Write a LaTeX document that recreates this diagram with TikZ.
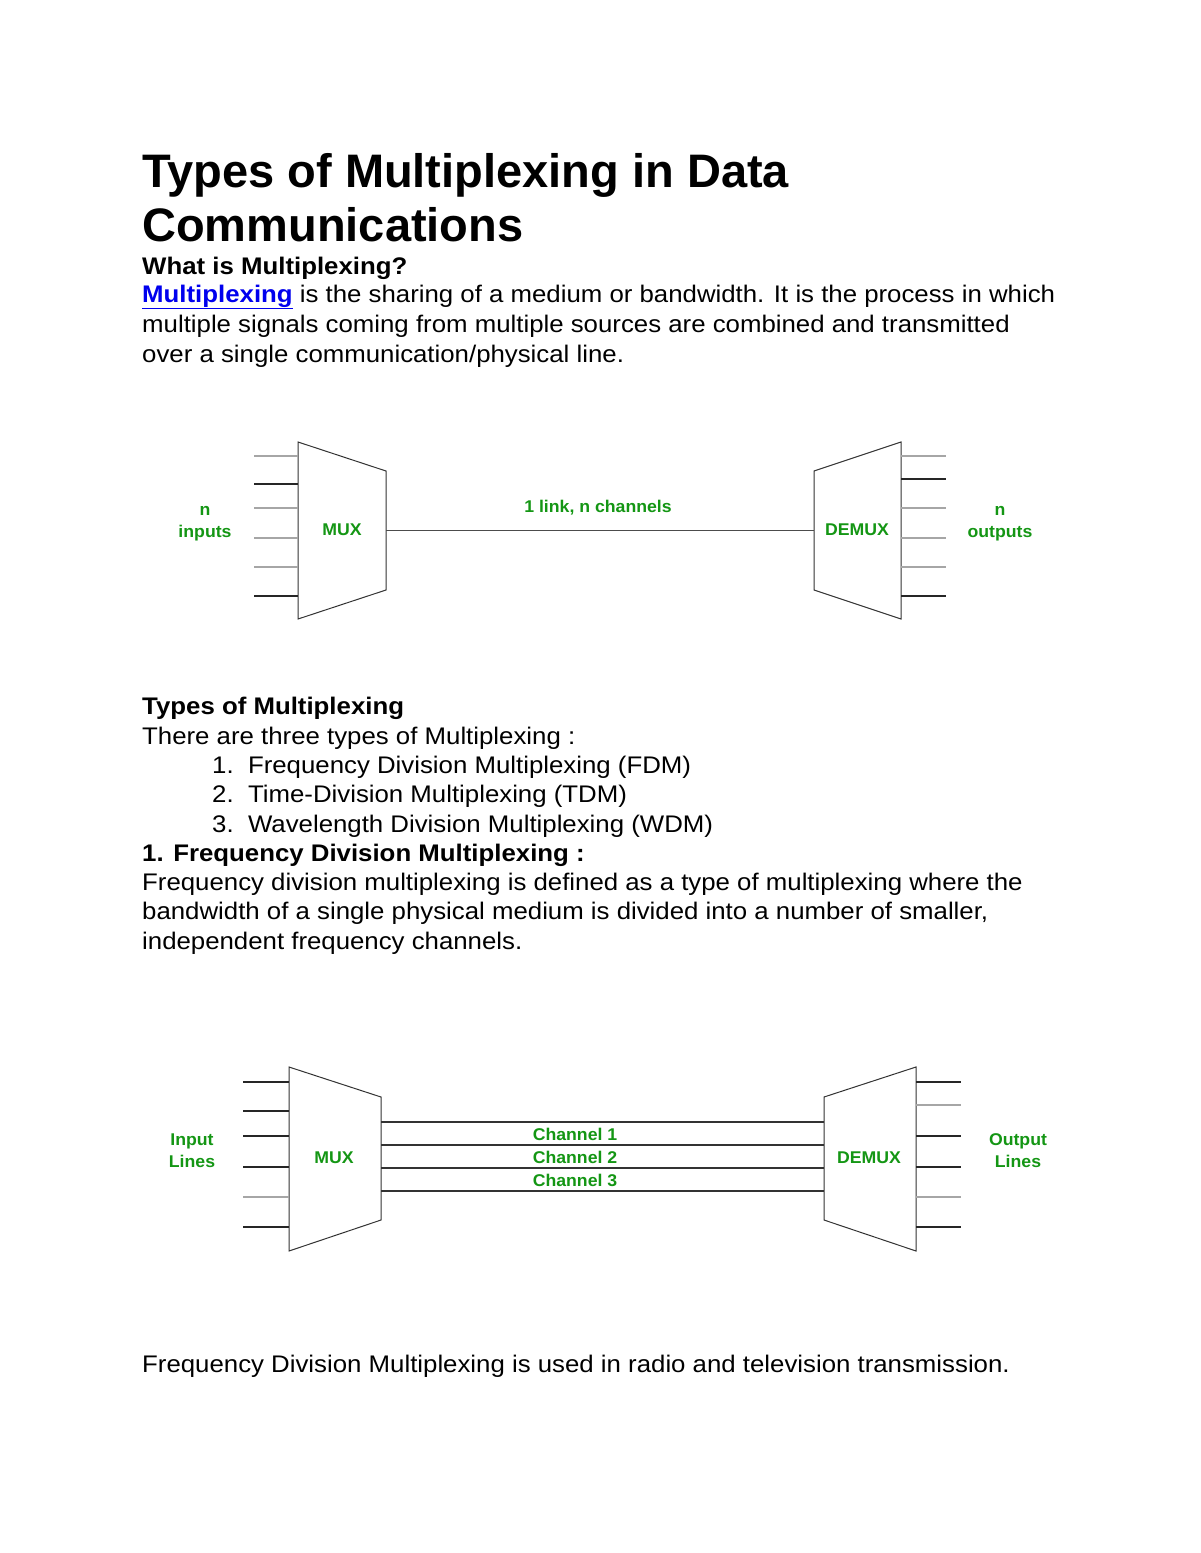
\documentclass[tikz,border=0pt]{standalone}
\usepackage{fontspec}
\setmainfont{Liberation Sans}
\newfontfamily\bodyfont[FakeStretch=1.075]{Liberation Sans}
\newfontfamily\lblfont[FakeStretch=1.04]{Liberation Sans}
\definecolor{lblgreen}{RGB}{20,150,20}
\definecolor{linkblue}{RGB}{0,0,238}
\begin{document}
\begin{tikzpicture}[x=1pt,y=-1pt,
  txt/.style={anchor=base west,inner sep=0,font=\bodyfont\fontsize{24}{28}\selectfont},
  hd/.style={txt,font=\bodyfont\fontsize{24}{28}\selectfont\bfseries},
  ttl/.style={anchor=base west,inner sep=0,font=\fontsize{47}{56}\selectfont\bfseries},
  lbl/.style={inner sep=0,text=lblgreen,font=\lblfont\fontsize{17}{22}\selectfont\bfseries,align=center},
  blk/.style={line width=1.3pt,black!85},
  gry/.style={line width=1.3pt,black!35},
  box/.style={line width=1pt,black!80}]
\useasboundingbox (0,0) rectangle (1200,1553);
\fill[white] (0,0) rectangle (1200,1553);
% text
\node[ttl] (t1) at (142,187) {Types of Multiplexing in Data};
\node[ttl] (t2) at (142,241) {Communications};
\node[hd] (h1) at (142,274) {What is Multiplexing?};
\node[txt] (p1) at (142,302) {{\bfseries\color{linkblue}\underline{Multiplexing}} is the sharing of a medium or bandwidth. It is the process in which};
\node[txt] (p2) at (142,332) {multiple signals coming from multiple sources are combined and transmitted};
\node[txt] (p3) at (142,362) {over a single communication/physical line.};
\node[hd] (h2) at (142,714) {Types of Multiplexing};
\node[txt] (q1) at (142,744) {There are three types of Multiplexing :};
\node[txt] (l1) at (212,773) {1.\ \ Frequency Division Multiplexing (FDM)};
\node[txt] (l2) at (212,802) {2.\ \ Time-Division Multiplexing (TDM)};
\node[txt] (l3) at (212,832) {3.\ \ Wavelength Division Multiplexing (WDM)};
\node[hd] (h3) at (142,861) {1. Frequency Division Multiplexing :};
\node[txt] (r1) at (142,890) {Frequency division multiplexing is defined as a type of multiplexing where the};
\node[txt] (r2) at (142,919) {bandwidth of a single physical medium is divided into a number of smaller,};
\node[txt] (r3) at (142,949) {independent frequency channels.};
\node[txt] (s1) at (142,1372) {Frequency Division Multiplexing is used in radio and television transmission.};
% diagram 1
\draw[box] (298,442) -- (386,471) -- (386,590) -- (298,619) -- cycle;
\draw[box] (901,442) -- (814,471) -- (814,590) -- (901,619) -- cycle;
\coordinate (m1) at (386,530); \coordinate (d1) at (814,530);
\draw[line width=1pt,black!70] (m1) -- (d1);
\foreach \y/\s in {456/gry,484/blk,508/gry,538/gry,567/gry,596/blk}{\draw[\s] (254,\y) -- (298,\y);}
\foreach \y/\s in {456/gry,479/blk,508/gry,538/gry,567/gry,596/blk}{\draw[\s] (901,\y) -- (946,\y);}
\node[lbl] (mx1) at (342,530) {MUX};
\node[lbl] (dx1) at (857,530) {DEMUX};
\node[lbl] (ln) at (598,508) {1 link, n channels};
\node[lbl] (ni) at (205,524) {n\\inputs};
\node[lbl] (no) at (1000,524) {n\\outputs};
% diagram 2
\draw[box] (289,1067) -- (381,1097) -- (381,1220) -- (289,1251) -- cycle;
\draw[box] (916,1067) -- (824,1097) -- (824,1220) -- (916,1251) -- cycle;
\foreach \y in {1122,1145,1168,1191}{\draw[line width=1.6pt,black!80] (381,\y) -- (824,\y);}
\foreach \y/\s in {1082/blk,1111/blk,1136/blk,1167/blk,1197/gry,1227/blk}{\draw[\s] (243,\y) -- (289,\y);}
\foreach \y/\s in {1082/blk,1105/gry,1136/blk,1167/blk,1197/gry,1227/blk}{\draw[\s] (916,\y) -- (961,\y);}
\node[lbl] (mx2) at (334,1158) {MUX};
\node[lbl] (dx2) at (869,1158) {DEMUX};
\node[lbl] (c1) at (575,1134) {Channel 1};
\node[lbl] (c2) at (575,1157) {Channel 2};
\node[lbl] (c3) at (575,1180) {Channel 3};
\node[lbl] (il) at (192,1151) {Input\\Lines};
\node[lbl] (ol) at (1018,1151) {Output\\Lines};
\end{tikzpicture}
\end{document}
